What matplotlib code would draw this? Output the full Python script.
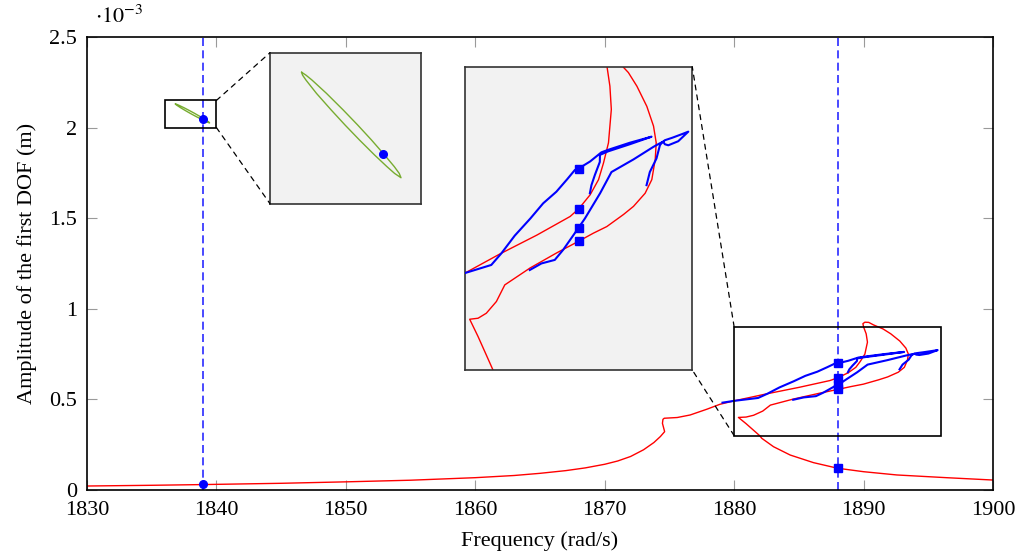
import matplotlib
matplotlib.use("Agg")
import matplotlib.pyplot as plt
from matplotlib.patches import Rectangle, ConnectionPatch
from matplotlib.ticker import FuncFormatter

plt.rcParams['font.family'] = 'serif'
plt.rcParams['font.serif'] = ['Liberation Serif', 'DejaVu Serif']
plt.rcParams['mathtext.fontset'] = 'stix'

# amplitudes are in units of 1e-3 m
# red: frequency response curve (with the fold near 1880-1894)
red_f = [1830, 1835, 1839, 1845, 1850, 1855, 1860, 1863, 1865, 1867, 1868.5, 1870,
         1871, 1872, 1873, 1873.8, 1874.3, 1874.63, 1874.46, 1874.5, 1874.6, 1875.6,
         1876.6, 1877.9, 1878.9, 1880.0,
         1882.47, 1885.05, 1887.40, 1888.0, 1888.81, 1889.40, 1889.75, 1890.10, 1890.30,
         1890.2, 1890.0, 1889.95, 1890.1, 1890.4, 1890.77, 1891.5, 1892.1, 1892.8,
         1893.27, 1893.46, 1893.39, 1893.15, 1892.68, 1891.86, 1891.16, 1889.98, 1889.04,
         1888.0, 1886.46, 1884.58, 1882.80, 1882.21, 1881.50, 1880.92, 1880.33, 1880.92,
         1881.50, 1881.97, 1882.14, 1883.04, 1884.33, 1886.13, 1888.0, 1890.0, 1892.57,
         1896.4, 1900.0]
red_a = [0.022, 0.026, 0.030, 0.037, 0.045, 0.054, 0.068, 0.080, 0.092, 0.107, 0.122, 0.142,
         0.160, 0.185, 0.222, 0.262, 0.295, 0.322, 0.368, 0.390, 0.396, 0.400,
         0.414, 0.446, 0.473, 0.492,
         0.530, 0.567, 0.604, 0.619, 0.647, 0.677, 0.710, 0.750, 0.816,
         0.862, 0.900, 0.918, 0.926, 0.925, 0.911, 0.889, 0.862, 0.822,
         0.783, 0.750, 0.717, 0.677, 0.650, 0.624, 0.608, 0.584, 0.571,
         0.555, 0.532, 0.502, 0.4685, 0.4356, 0.4124, 0.4025, 0.4005, 0.3662,
         0.3297, 0.300, 0.285, 0.239, 0.193, 0.151, 0.120, 0.101, 0.083,
         0.068, 0.055]

# blue: two solution branches
blue1_f = [1879.1, 1880.0, 1881.85, 1882.56, 1883.5, 1884.6, 1885.5, 1886.43, 1887.2,
           1887.73, 1888.0, 1888.81, 1889.6, 1890.08, 1891.6, 1893.13, 1891.6, 1890.08,
           1889.5, 1889.49, 1889.14, 1888.90, 1888.79]
blue1_a = [0.482, 0.492, 0.508, 0.531, 0.566, 0.600, 0.630, 0.653, 0.678,
           0.696, 0.699, 0.713, 0.731, 0.736, 0.750, 0.762, 0.747, 0.733,
           0.726, 0.712, 0.686, 0.666, 0.650]

blue2_f = [1884.56, 1885.38, 1886.32, 1886.91, 1887.73, 1888.0, 1888.44, 1889.51, 1890.31,
           1891.86, 1893.27, 1893.72, 1893.95, 1894.07, 1894.31, 1895.01, 1895.72, 1895.36,
           1894.6, 1894.07, 1893.85, 1893.72, 1893.48, 1893.01, 1892.78]
blue2_a = [0.498, 0.511, 0.518, 0.538, 0.571, 0.582, 0.600, 0.650, 0.692,
           0.717, 0.742, 0.749, 0.752, 0.747, 0.745, 0.753, 0.772, 0.768,
           0.760, 0.755, 0.750, 0.745, 0.719, 0.692, 0.666]

# green closed orbit near 1838
orbit_f = [1836.839, 1836.949, 1837.110, 1837.496, 1837.939, 1838.322, 1838.688, 1839.037,
           1839.293, 1839.423, 1839.470, 1839.300, 1839.098, 1838.772, 1838.370, 1837.987,
           1837.621, 1837.231, 1836.951, 1836.861, 1836.839]
orbit_a = [2.1305, 2.1278, 2.1229, 2.1096, 2.0931, 2.0782, 2.0633, 2.0483,
           2.0368, 2.0301, 2.0258, 2.0301, 2.0368, 2.0483, 2.0633, 2.0782,
           2.0931, 2.1096, 2.1229, 2.1278, 2.1305]

# markers
square_f = [1888, 1888, 1888, 1888, 1888]
square_a = [0.699, 0.619, 0.582, 0.555, 0.120]
circle_f = [1839.0, 1839.0]
circle_a = [0.031, 2.049]

vline_f = [1839, 1888]

zoom1_x = [1836, 1840]
zoom1_y = [2.0, 2.15]
zoom2_x = [1880, 1896]
zoom2_y = [0.3, 0.9]

xticks = [1830, 1840, 1850, 1860, 1870, 1880, 1890, 1900]
yticks = [0, 0.5, 1, 1.5, 2, 2.5]

fs = 16

fig = plt.figure(figsize=(10.17, 5.56), dpi=100)
ax = fig.add_axes([87 / 1017, 1 - 490 / 556, 906 / 1017, 453 / 556])


def draw_curves(a):
    a.plot(red_f, red_a, color='red', lw=1.0, zorder=2)
    a.plot(blue1_f, blue1_a, color='blue', lw=1.5, zorder=3)
    a.plot(blue2_f, blue2_a, color='blue', lw=1.5, zorder=3)
    a.plot(orbit_f, orbit_a, color='#77ac30', lw=1.0, zorder=3)
    a.plot(square_f, square_a, 's', color='blue', ms=5.5, zorder=4)
    a.plot(circle_f, circle_a, 'o', color='blue', ms=5.5, zorder=4)


draw_curves(ax)
for f in vline_f:
    ax.axvline(f, color='#2a2aff', lw=1.2, ls=(0, (4.8, 2.6)), zorder=1)

ax.set_xlim(1830, 1900)
ax.set_ylim(0, 2.5)
ax.set_xticks(xticks)
ax.set_yticks(yticks)
ax.yaxis.set_major_formatter(FuncFormatter(lambda v, p: f'{v:g}'))
ax.tick_params(direction='in', length=7, width=0.8, color='#9a9a9a',
               top=True, right=True, labelsize=fs)
ax.tick_params(axis='x', pad=8)
ax.tick_params(axis='y', pad=7)
for s in ax.spines.values():
    s.set_linewidth(1.2)
ax.set_xlabel('Frequency (rad/s)', fontsize=fs, labelpad=8)
ax.set_ylabel('Amplitude of the first DOF (m)', fontsize=fs, labelpad=9)
ax.text(0.009, 1.02, r'$\cdot 10^{-3}$', transform=ax.transAxes,
        fontsize=fs, va='bottom', ha='left')

# rectangles marking the zoomed regions
for zx, zy in [(zoom1_x, zoom1_y), (zoom2_x, zoom2_y)]:
    ax.add_patch(Rectangle((zx[0], zy[0]), zx[1] - zx[0], zy[1] - zy[0],
                           fill=False, ec='black', lw=1.2, zorder=5))

# zoom insets
ins1 = ax.inset_axes([183 / 906, 286.3 / 453, 151 / 906, 151 / 453])
ins2 = ax.inset_axes([378 / 906, 120 / 453, 227.3 / 906, 303 / 453])
for ins, zx, zy in [(ins1, zoom1_x, zoom1_y), (ins2, zoom2_x, zoom2_y)]:
    draw_curves(ins)
    ins.set_xlim(zx)
    ins.set_ylim(zy)
    ins.set_xticks([])
    ins.set_yticks([])
    ins.set_facecolor('#f2f2f2')
    for s in ins.spines.values():
        s.set_linewidth(1.2)
        s.set_color('#333333')

# dashed connectors
links = [((zoom1_x[1], zoom1_y[1]), ins1, (0, 1)),
         ((zoom1_x[1], zoom1_y[0]), ins1, (0, 0)),
         ((zoom2_x[0], zoom2_y[1]), ins2, (1, 1)),
         ((zoom2_x[0], zoom2_y[0]), ins2, (1, 0))]
for xy, ins, corner in links:
    con = ConnectionPatch(xyA=xy, coordsA=ax.transData, xyB=corner, coordsB=ins.transAxes,
                          color='black', lw=0.9, ls=(0, (4, 4)))
    fig.add_artist(con)

plt.savefig('out.png', dpi=100)
